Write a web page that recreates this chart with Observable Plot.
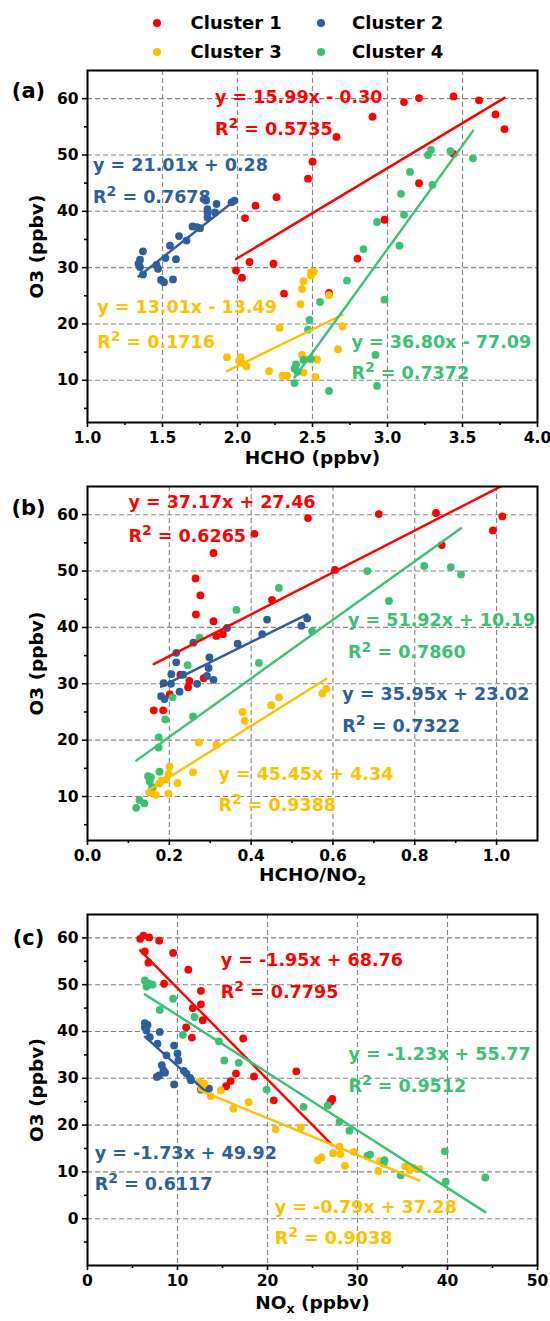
<!DOCTYPE html>
<html><head><meta charset="utf-8">
<script src="https://cdn.jsdelivr.net/npm/d3@7"></script>
<script src="https://cdn.jsdelivr.net/npm/@observablehq/plot@0.6"></script>
<style>
body{margin:0;background:#fff;}
#chart{width:550px;position:relative;font-family:"DejaVu Sans",sans-serif;font-weight:bold;color:#000}
#legend{position:relative;width:550px;height:62px}
.lg-dot{position:absolute;width:8px;height:8px;border-radius:50%;}
.lg-txt{position:absolute;font-size:18px;line-height:18px;white-space:nowrap}
svg{display:block}
svg text{font-family:"DejaVu Sans",sans-serif;font-weight:bold}
</style></head><body><div id="chart"><div id="legend"></div></div>
<script>
const clusters = ["Cluster 1","Cluster 2","Cluster 3","Cluster 4"];
const colors = ["#FF0000","#2E5E9B","#FFC000","#3CC073"];

// ---- Panel (a): HCHO (ppbv) vs O3 (ppbv) ----
const aRed = [[1.99,29.5],[2.03,28.2],[2.05,38.8],[2.08,31.0],[2.12,41.0],[2.24,30.7],[2.26,42.5],[2.31,25.4],[2.47,45.8],[2.50,48.8],[2.61,25.5],[2.66,53.2],[2.80,31.6],[2.90,56.8],[2.98,38.5],[3.11,59.4],[3.21,60.1],[3.21,45.0],[3.44,60.4],[3.44,50.2],[3.61,59.7],[3.72,57.2],[3.78,54.6]];
const aBlue = [[1.35,30.1],[1.34,30.7],[1.35,31.4],[1.37,32.9],[1.37,28.8],[1.46,30.5],[1.47,29.8],[1.49,27.8],[1.51,27.4],[1.57,27.9],[1.52,31.7],[1.59,31.5],[1.55,33.9],[1.61,35.6],[1.66,34.8],[1.70,37.3],[1.73,37.2],[1.75,37.0],[1.80,38.9],[1.80,40.4],[1.80,39.8],[1.85,39.8],[1.86,41.3],[1.79,41.9],[1.96,41.6],[1.98,41.9]];
const aYellow = [[1.93,14.1],[2.02,14.1],[2.01,13.4],[2.03,13.1],[2.06,12.5],[2.21,11.6],[2.28,19.3],[2.30,10.8],[2.33,10.8],[2.42,23.5],[2.43,26.2],[2.44,27.6],[2.49,28.6],[2.49,29.2],[2.51,29.3],[2.61,25.1],[2.43,14.5],[2.44,11.4],[2.47,13.7],[2.53,13.7],[2.52,10.6],[2.67,15.5],[2.70,19.6]];
const aGreen = [[2.38,9.5],[2.38,12.1],[2.39,12.8],[2.40,11.5],[2.44,13.6],[2.49,13.8],[2.47,19.0],[2.48,20.7],[2.55,23.9],[2.61,8.1],[2.73,27.7],[2.84,33.3],[2.92,14.5],[2.93,9.0],[2.93,38.1],[2.98,24.3],[3.08,33.9],[3.11,39.4],[3.09,43.1],[3.15,47.0],[3.27,50.0],[3.29,50.9],[3.30,44.7],[3.42,50.7],[3.57,49.4]];
const aSlope = [15.99,21.01,13.01,36.80];
const aIntercept = [-0.30,0.28,-13.49,-77.09];
const aR2 = ["0.5735","0.7678","0.1716","0.7372"];
const aXTicks = [1.0,1.5,2.0,2.5,3.0,3.5,4.0];

// ---- Panel (b): HCHO/NO2 vs O3 ----
const bRed = [[0.162,25.3],[0.185,25.3],[0.201,28.1],[0.227,31.6],[0.246,29.4],[0.249,30.5],[0.264,48.7],[0.265,42.3],[0.276,45.7],[0.284,31.0],[0.308,53.2],[0.308,41.1],[0.315,38.5],[0.331,38.8],[0.408,56.6],[0.451,44.9],[0.539,59.4],[0.605,50.2],[0.712,60.1],[0.852,60.3],[0.866,54.6],[0.991,57.2],[1.014,59.7]];
const bBlue = [[0.180,27.8],[0.188,27.3],[0.186,30.1],[0.204,30.0],[0.205,31.7],[0.225,28.6],[0.234,31.6],[0.217,33.8],[0.217,35.5],[0.259,37.3],[0.268,30.0],[0.292,31.4],[0.296,32.8],[0.298,34.7],[0.308,30.7],[0.341,39.9],[0.367,37.1],[0.427,38.8],[0.439,41.4],[0.523,40.3],[0.537,41.6]];
const bYellow = [[0.151,10.7],[0.160,11.5],[0.167,10.3],[0.175,12.3],[0.180,12.8],[0.192,13.0],[0.198,14.0],[0.201,15.3],[0.198,10.5],[0.220,12.4],[0.258,14.3],[0.272,19.6],[0.315,19.2],[0.379,25.0],[0.384,23.4],[0.449,26.2],[0.468,27.6],[0.574,28.3],[0.584,29.1]];
const bGreen = [[0.119,8.0],[0.127,9.4],[0.139,8.8],[0.148,13.6],[0.155,13.4],[0.152,12.7],[0.158,11.7],[0.176,14.4],[0.174,18.7],[0.174,20.5],[0.190,23.7],[0.208,27.6],[0.245,33.3],[0.258,24.2],[0.274,38.2],[0.364,43.1],[0.419,33.7],[0.468,47.0],[0.549,39.3],[0.684,50.0],[0.737,44.7],[0.823,50.9],[0.888,50.7],[0.913,49.4]];
const bSlope = [37.17,35.95,45.45,51.92];
const bIntercept = [27.46,23.02,4.34,10.19];
const bR2 = ["0.6265","0.7322","0.9388","0.7860"];
const bXTicks = [0.0,0.2,0.4,0.6,0.8,1.0];

// ---- Panel (c): NOx (ppbv) vs O3 ----
const cRed = [[5.85,59.8],[6.22,60.5],[6.85,60.1],[7.96,59.4],[6.37,57.1],[6.77,54.7],[9.51,56.8],[11.2,53.2],[8.51,50.2],[12.6,48.7],[12.6,45.8],[11.7,45.0],[12.8,42.4],[10.96,40.9],[11.6,38.7],[17.3,38.5],[18.5,30.4],[16.5,31.0],[15.9,29.4],[15.4,28.3],[20.7,25.3],[23.2,31.5],[27.0,25.0],[27.2,25.6]];
const cBlue = [[6.37,41.8],[6.67,41.4],[6.37,40.9],[6.55,40.2],[6.92,38.8],[8.03,39.9],[7.78,37.4],[8.78,34.9],[9.62,37.0],[10.0,35.3],[10.1,33.8],[8.26,32.8],[8.44,31.7],[7.96,30.6],[7.70,30.3],[8.62,31.2],[9.62,28.7],[10.7,31.6],[11.0,31.0],[11.4,30.1],[11.5,29.6],[12.6,27.6],[13.5,27.8],[12.9,28.3]];
const cYellow = [[12.4,29.2],[12.96,28.9],[12.7,28.0],[13.7,26.2],[14.8,27.4],[16.2,23.5],[17.9,24.9],[20.9,19.1],[23.7,19.5],[25.6,12.5],[26.0,13.1],[27.3,14.0],[28.0,15.4],[28.1,13.8],[28.6,11.3],[29.6,14.3],[32.3,10.2],[32.5,12.3],[35.3,11.2],[35.8,10.4],[36.2,10.9],[36.9,10.6]];
const cGreen = [[6.37,50.9],[6.55,49.6],[6.8,50.3],[7.22,50.0],[8.03,44.6],[9.51,47.0],[10.6,39.3],[11.9,43.1],[14.6,37.9],[15.2,33.8],[16.8,33.3],[19.9,27.6],[24.0,23.9],[26.7,24.2],[28.0,20.7],[29.1,18.8],[31.1,13.4],[31.4,13.7],[33.0,12.5],[32.9,11.8],[34.8,9.3],[39.7,14.4],[39.8,7.9],[44.2,8.8]];
const cSlope = [-1.95,-1.73,-0.79,-1.23];
const cIntercept = [68.76,49.92,37.28,55.77];
const cR2 = ["0.7795","0.6117","0.9038","0.9512"];
const cXTicks = [0,10,20,30,40,50];

const yTicksAB = [10,20,30,40,50,60];
const yTicksC = [0,10,20,30,40,50,60];

// annotation anchors (data units): [x, y of equation, y of R2 line], per cluster 1..4
const aLabelPos = [[1.85,60.2,54.6],[1.037,48.2,42.5],[1.065,23.0,16.8],[2.76,16.7,11.2]];
const bLabelPos = [[0.100,62.2,56.2],[0.623,28.1,22.4],[0.320,14.0,8.4],[0.637,41.2,35.5]];
const cLabelPos = [[14.8,55.2,48.4],[0.81,13.9,7.4],[20.8,2.4,-4.2],[29.0,35.1,28.3]];

// ---- legend ----
const legend = document.getElementById("legend");
const lgDotX = [157,321], lgTxtX = [190.5,352], lgRowY = [23.3,51.7];
clusters.forEach((name,k)=>{
  const col = k%2, row = Math.floor(k/2);
  const d = document.createElement("div"); d.className="lg-dot";
  d.style.background = colors[k]; d.style.left=(lgDotX[col]-4)+"px"; d.style.top=(lgRowY[row]-4)+"px";
  const t = document.createElement("div"); t.className="lg-txt"; t.textContent=name;
  t.style.left=lgTxtX[col]+"px"; t.style.top=(lgRowY[row]-9)+"px";
  legend.appendChild(d); legend.appendChild(t);
});

function eqStr(s,b){ return `y = ${s.toFixed(2)}x ${b<0?"-":"+"} ${Math.abs(b).toFixed(2)}`; }

function panel(o){
  const rows=[];
  o.pts.forEach((arr,k)=>arr.forEach(([x,y])=>rows.push({x,y,k})));
  const lines=[];
  o.pts.forEach((arr,k)=>{
    const xs=arr.map(d=>d[0]); const x0=d3.min(xs), x1=d3.max(xs);
    lines.push({x:x0,y:o.slope[k]*x0+o.intercept[k],k},{x:x1,y:o.slope[k]*x1+o.intercept[k],k});
  });
  const eqs=[];
  o.pos.forEach((p,k)=>{
    eqs.push({x:p[0],y:p[1],t:eqStr(o.slope[k],o.intercept[k]),k});
    eqs.push({x:p[0],y:p[2],t:"R^2 = "+o.r2[k],k});
  });
  const tickStyle={tickSize:5,tickPadding:4,strokeWidth:1.6,label:null};
  const minorStyle={tickSize:3,strokeWidth:1.6,label:null,tickFormat:()=>""};
  return Plot.plot({
    width:550,height:o.height,marginLeft:87,marginRight:13,marginTop:o.mt,marginBottom:o.mb,
    x:{domain:o.xDomain},y:{domain:o.yDomain},
    color:{type:"ordinal",domain:[0,1,2,3],range:colors},
    style:{fontSize:"15.5px",background:"white",overflow:"visible",color:"black"},
    marks:[
      Plot.gridX({ticks:o.xTicks,stroke:"#858585",strokeOpacity:1,strokeWidth:1.1,strokeDasharray:"5,3"}),
      Plot.gridY({ticks:o.yTicks,stroke:"#858585",strokeOpacity:1,strokeWidth:1.1,strokeDasharray:"5,3"}),
      Plot.axisX({ticks:o.xTicks,tickFormat:o.xFmt,...tickStyle}),
      Plot.axisX({ticks:o.xMinor,...minorStyle}),
      Plot.axisY({ticks:o.yTicks,tickFormat:"d",...tickStyle}),
      Plot.axisY({ticks:o.yMinor,...minorStyle}),
      Plot.dot(rows,{x:"x",y:"y",fill:"k",r:3.9,clip:true}),
      Plot.line(lines,{x:"x",y:"y",z:"k",stroke:"k",strokeWidth:2.4,clip:true}),
      Plot.text(eqs,{x:"x",y:"y",text:"t",fill:"k",textAnchor:"start",fontSize:17.5}),
      Plot.frame({stroke:"black",strokeWidth:2}),
      Plot.text([o.label],{text:d=>d,frameAnchor:"top-left",dx:-59,dy:o.labelDy,fontSize:21,textAnchor:"middle"}),
      Plot.text([o.xTitle],{text:d=>d,frameAnchor:"bottom",dy:o.titleDy,fontSize:18.5,textAnchor:"middle"}),
      Plot.text(["O3 (ppbv)"],{text:d=>d,frameAnchor:"left",rotate:-90,dx:-50.5,fontSize:18.5,textAnchor:"middle"})
    ]
  });
}

function richText(svg){
  svg.querySelectorAll("text").forEach(t=>{
    const s=t.textContent;
    if(!/[\^_]/.test(s)) return;
    const fs=parseFloat(getComputedStyle(t).fontSize)||16;
    const parts=s.split(/([\^_].)/);
    while(t.firstChild) t.removeChild(t.firstChild);
    let shift=0;
    parts.forEach(p=>{
      if(!p) return;
      const ts=document.createElementNS("http://www.w3.org/2000/svg","tspan");
      if(p[0]==="^"||p[0]==="_"){
        const sup=p[0]==="^";
        const d= sup ? -0.39*fs : 0.26*fs;
        ts.textContent=p.slice(1);
        ts.setAttribute("font-size",((sup?0.8:0.68)*fs)+"px");
        ts.setAttribute("dy",d-shift); shift=d;
      } else {
        ts.textContent=p;
        if(shift) ts.setAttribute("dy",-shift);
        shift=0;
      }
      t.appendChild(ts);
    });
  });
}

const chart=document.getElementById("chart");
const panels=[
  {pts:[aRed,aBlue,aYellow,aGreen],slope:aSlope,intercept:aIntercept,r2:aR2,pos:aLabelPos,
   xDomain:[1,4],yDomain:[2.5,65],xTicks:aXTicks,xMinor:[1.25,1.75,2.25,2.75,3.25,3.75],
   yTicks:yTicksAB,yMinor:[5,15,25,35,45,55],xFmt:".1f",label:"(a)",xTitle:"HCHO (ppbv)",
   height:413,mt:8,mb:53,labelDy:13,titleDy:41.5},
  {pts:[bRed,bBlue,bYellow,bGreen],slope:bSlope,intercept:bIntercept,r2:bR2,pos:bLabelPos,
   xDomain:[0,1.1],yDomain:[2.2,65],xTicks:bXTicks,xMinor:[0.1,0.3,0.5,0.7,0.9],
   yTicks:yTicksAB,yMinor:[5,15,25,35,45,55],xFmt:".1f",label:"(b)",xTitle:"HCHO/NO_2",
   height:420,mt:11,mb:55,labelDy:14,titleDy:40},
  {pts:[cRed,cBlue,cYellow,cGreen],slope:cSlope,intercept:cIntercept,r2:cR2,pos:cLabelPos,
   xDomain:[0,50],yDomain:[-10,65],xTicks:cXTicks,xMinor:[5,15,25,35,45],
   yTicks:yTicksC,yMinor:[-5,5,15,25,35,45,55],xFmt:"d",label:"(c)",xTitle:"NO_x (ppbv)",
   height:426,mt:19,mb:56,labelDy:16,titleDy:43}
];
panels.forEach(o=>{ const svg=panel(o); chart.appendChild(svg); richText(svg); });
</script></body></html>
